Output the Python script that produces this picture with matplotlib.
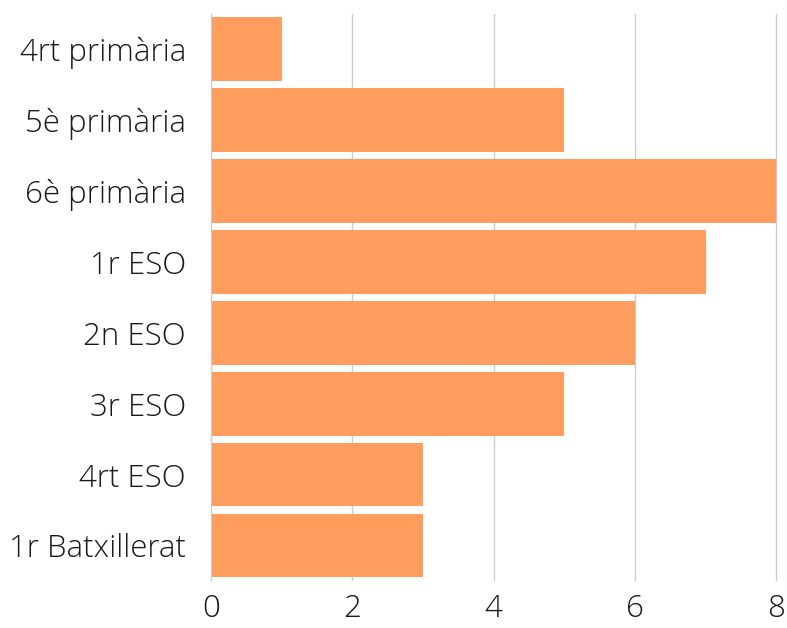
import matplotlib.pyplot as plt

cursos = ['4rt primària', '5è primària', '6è primària', '1r ESO',
          '2n ESO', '3r ESO', '4rt ESO', '1r Batxillerat']
valors = [1, 5, 8, 7, 6, 5, 3, 3]
ticks_x = [0, 2, 4, 6, 8]

plt.rcParams['font.family'] = ['Open Sans', 'DejaVu Sans']

fig = plt.figure(figsize=(7.87, 6.28), dpi=100)
ax = fig.add_axes([0.268, 0.075, 0.72, 0.903])

y = list(range(len(cursos)))
ax.barh(y, valors, height=0.9, color='#FF9D5F', zorder=2)

ax.set_ylim(len(cursos) - 0.5, -0.5)
ax.set_xlim(0, 8.015)
ax.set_yticks(y)
ax.set_yticklabels(cursos, fontsize=22.5, fontweight='light', color='#1a1a1a')
ax.set_xticks(ticks_x)
ax.set_xticklabels([str(t) for t in ticks_x], fontsize=22.5, fontweight='light', color='#1a1a1a')

ax.grid(axis='x', color='#cccccc', linewidth=1, zorder=0)
for s in ['top', 'right', 'bottom']:
    ax.spines[s].set_visible(False)
ax.spines['left'].set_color('#cccccc')
ax.tick_params(axis='y', length=0, pad=18)
ax.tick_params(axis='x', length=0, pad=9)

plt.savefig('out.png')
